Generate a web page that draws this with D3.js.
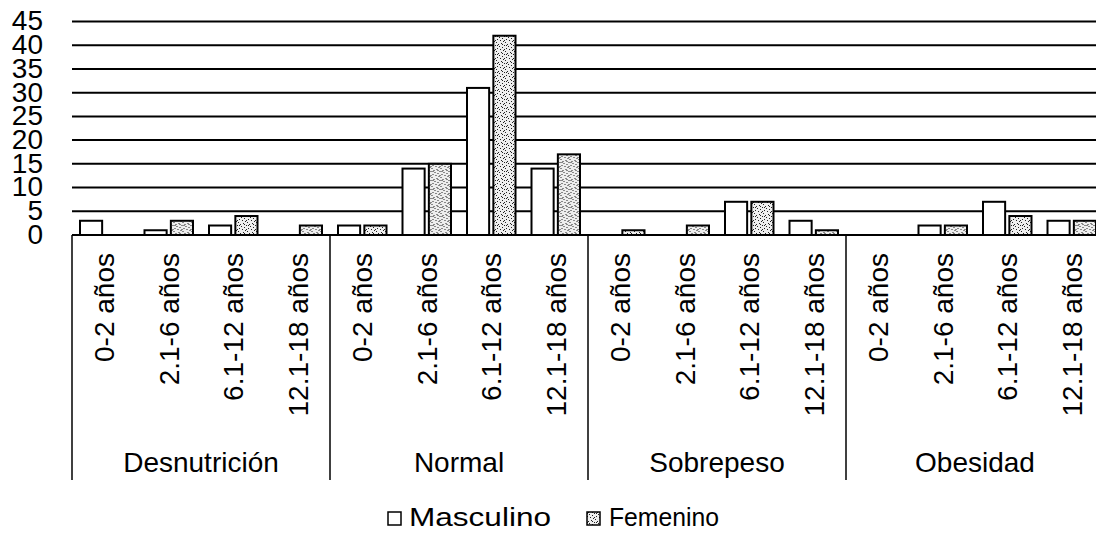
<!DOCTYPE html>
<html>
<head>
<meta charset="utf-8">
<script src="https://cdn.jsdelivr.net/npm/d3@7"></script>
<style>
  html, body { margin: 0; padding: 0; background: #fff; }
  svg { display: block; font-family: "Liberation Sans", Arial, sans-serif; }
</style>
</head>
<body>
<svg id="chart" width="1096" height="536"></svg>
<script>
// Estado nutricional por grupo de edad y sexo
const groups = ["Desnutrición", "Normal", "Sobrepeso", "Obesidad"];
const ageRanges = ["0-2 años", "2.1-6 años", "6.1-12 años", "12.1-18 años"];
const seriesNames = ["Masculino", "Femenino"];
// values listed group by group, in ageRanges order
const masculino = [3, 1, 2, 0,   2, 14, 31, 14,   0, 0, 7, 3,   0, 2, 7, 3];
const femenino  = [0, 3, 4, 2,   2, 15, 42, 17,   1, 2, 7, 1,   0, 2, 4, 3];
const yTicks = [0, 5, 10, 15, 20, 25, 30, 35, 40, 45];

const svg = d3.select("#chart");

// stippled fill for the Femenino series
const defs = svg.append("defs");
const pat = defs.append("pattern")
  .attr("id", "stipple").attr("patternUnits", "userSpaceOnUse")
  .attr("width", 9).attr("height", 9);
pat.append("rect").attr("width", 9).attr("height", 9).attr("fill", "#eeeeee");
[[0,0],[4,1],[7,2],[2,3],[5,4],[8,5],[1,6],[6,7],[3,8],[7,8],[2,0],[0,4]].forEach(([px, py]) => {
  pat.append("rect").attr("x", px).attr("y", py).attr("width", 1).attr("height", 1).attr("fill", "#222");
});

const plotLeft = 72, plotRight = 1104, baseline = 235, plotTop = 21.5, boxBottom = 480;

// one band per (group, age range) pair
const cats = [];
groups.forEach((g, gi) => ageRanges.forEach((a, ai) => cats.push({
  key: g + "|" + a, group: g, age: a,
  values: [masculino[gi * 4 + ai], femenino[gi * 4 + ai]]
})));

const x0 = d3.scaleBand().domain(cats.map(d => d.key)).range([plotLeft, plotRight]).padding(0);
const x1 = d3.scaleBand().domain(seriesNames).range([8, x0.bandwidth() - 8]).paddingInner(0.16);
const y = d3.scaleLinear().domain([0, 45]).range([baseline, plotTop]);
const xg = d3.scaleBand().domain(groups).range([plotLeft, plotRight]).padding(0);

// gridlines
svg.append("g").selectAll("line").data(yTicks.filter(t => t > 0)).join("line")
  .attr("x1", plotLeft).attr("x2", plotRight)
  .attr("y1", d => y(d)).attr("y2", d => y(d))
  .attr("stroke", "#000").attr("stroke-width", 2);

// y-axis labels
const yAxis = d3.axisLeft(y).tickValues(yTicks).tickSize(0).tickPadding(0);
const yg = svg.append("g").attr("transform", "translate(43,0)").call(yAxis);
yg.select(".domain").remove();
yg.selectAll("text").attr("font-size", 28).attr("fill", "#000")
  .attr("font-family", "Liberation Sans, Arial, sans-serif").attr("dy", "0.3em");

// bars
const fills = { Masculino: "#fff", Femenino: "url(#stipple)" };
svg.append("g").selectAll("g").data(cats).join("g")
  .attr("transform", d => `translate(${x0(d.key)},0)`)
  .selectAll("rect")
  .data(d => seriesNames.map((s, i) => ({ s, v: d.values[i] })).filter(e => e.v > 0))
  .join("rect")
  .attr("x", e => x1(e.s)).attr("width", x1.bandwidth())
  .attr("y", e => y(e.v)).attr("height", e => baseline - y(e.v))
  .attr("fill", e => fills[e.s]).attr("stroke", "#000").attr("stroke-width", 2);

// category box: baseline and group separators
svg.append("line").attr("x1", plotLeft).attr("x2", plotRight)
  .attr("y1", baseline).attr("y2", baseline).attr("stroke", "#000").attr("stroke-width", 2);
svg.append("g").selectAll("line").data(groups.concat(["end"])).join("line")
  .attr("x1", (d, i) => i < groups.length ? xg(d) : plotRight)
  .attr("x2", (d, i) => i < groups.length ? xg(d) : plotRight)
  .attr("y1", baseline).attr("y2", boxBottom)
  .attr("stroke", "#000").attr("stroke-width", 1.5);

// age-range labels, rotated
svg.append("g").selectAll("text").data(cats).join("text")
  .attr("transform", d => `translate(${x0(d.key) + x0.bandwidth() / 2},253) rotate(-90)`)
  .attr("text-anchor", "end").attr("dy", "0.36em")
  .attr("font-size", 28).attr("fill", "#000")
  .text(d => d.age);

// group labels
svg.append("g").selectAll("text").data(groups).join("text")
  .attr("x", d => xg(d) + xg.bandwidth() / 2).attr("y", 472)
  .attr("text-anchor", "middle").attr("font-size", 28).attr("fill", "#000")
  .text(d => d);

// legend
const legend = svg.append("g");
const legendItems = [
  { name: "Masculino", box: 388, text: 409, len: 142 },
  { name: "Femenino", box: 587, text: 609, len: 110 }
];
legendItems.forEach(it => {
  legend.append("rect").attr("x", it.box).attr("y", 512).attr("width", 13).attr("height", 13)
    .attr("fill", fills[it.name]).attr("stroke", "#000").attr("stroke-width", 1.5);
  legend.append("text").attr("x", it.text).attr("y", 526)
    .attr("font-size", 26).attr("fill", "#000")
    .attr("textLength", it.len).attr("lengthAdjust", "spacingAndGlyphs")
    .text(it.name);
});
</script>
</body>
</html>
